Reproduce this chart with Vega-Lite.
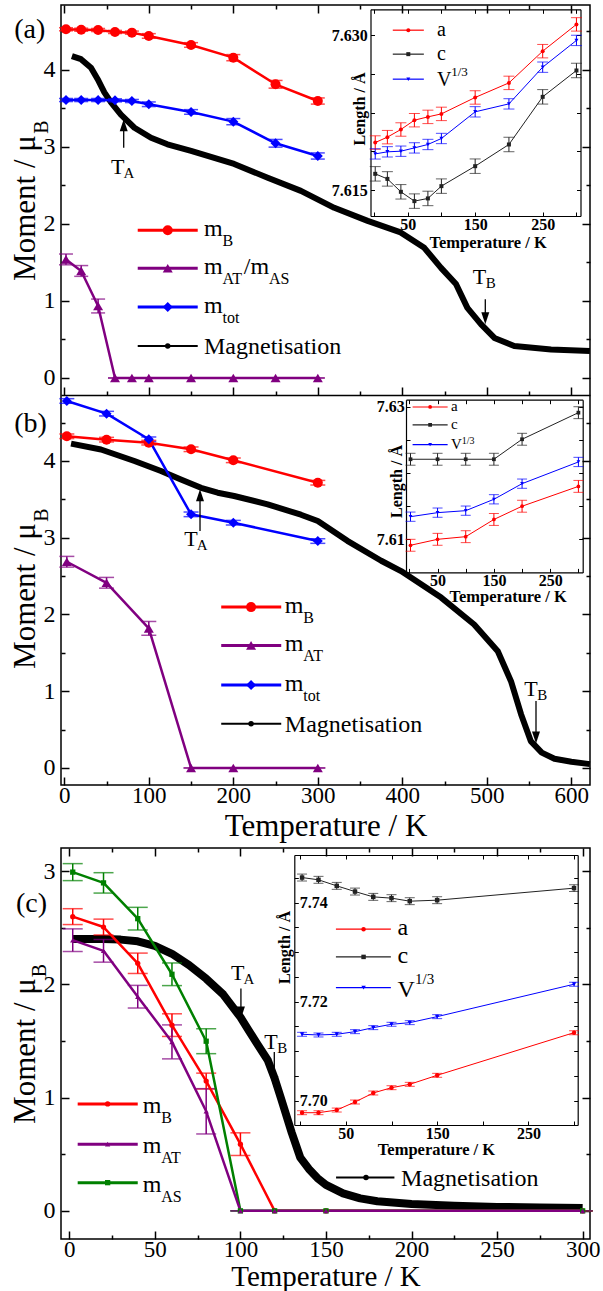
{
"$schema": "https://vega.github.io/schema/vega-lite/v6.json",
"background": "white",
"padding": {"left": 8, "top": 3, "right": 5, "bottom": 0},
"bounds": "flush",
"spacing": 63,
"config": {
 "font": "Liberation Serif",
 "view": {"stroke": "black", "strokeWidth": 1.5},
 "axis": {"grid": false, "domainColor": "black", "domainWidth": 1.5, "tickColor": "black", "tickWidth": 1.5, "labelColor": "black", "titleColor": "black", "labelFont": "Liberation Serif", "titleFont": "Liberation Serif", "titleFontWeight": "normal", "labelFlush": false, "labelOverlap": false, "labelBound": false},
 "line": {"strokeJoin": "round"}
},
"datasets": {
 "a_main": [
  {"s":"mB","T":2,"m":4.529,"e":0.02},{"s":"mB","T":20,"m":4.523,"e":0.02},{"s":"mB","T":40,"m":4.519,"e":0.02},{"s":"mB","T":60,"m":4.494,"e":0.02},{"s":"mB","T":80,"m":4.485,"e":0.02},{"s":"mB","T":100,"m":4.442,"e":0.03},{"s":"mB","T":150,"m":4.325,"e":0.03},{"s":"mB","T":200,"m":4.16,"e":0.04},{"s":"mB","T":250,"m":3.814,"e":0.05},{"s":"mB","T":300,"m":3.597,"e":0.04},
  {"s":"mtot","T":2,"m":3.61,"e":0.02},{"s":"mtot","T":20,"m":3.61,"e":0.02},{"s":"mtot","T":40,"m":3.61,"e":0.02},{"s":"mtot","T":60,"m":3.606,"e":0.02},{"s":"mtot","T":80,"m":3.597,"e":0.02},{"s":"mtot","T":100,"m":3.555,"e":0.03},{"s":"mtot","T":150,"m":3.455,"e":0.03},{"s":"mtot","T":200,"m":3.329,"e":0.04},{"s":"mtot","T":250,"m":3.048,"e":0.05},{"s":"mtot","T":300,"m":2.883,"e":0.04},
  {"s":"mAT","T":2,"m":1.54,"e":0.07},{"s":"mAT","T":20,"m":1.39,"e":0.07},{"s":"mAT","T":40,"m":0.935,"e":0.09},{"s":"mAT","T":60,"m":0,"e":0},{"s":"mAT","T":80,"m":0,"e":0},{"s":"mAT","T":100,"m":0,"e":0},{"s":"mAT","T":150,"m":0,"e":0},{"s":"mAT","T":200,"m":0,"e":0},{"s":"mAT","T":250,"m":0,"e":0},{"s":"mAT","T":300,"m":0,"e":0}
 ],
 "a_mag": [
  {"T":9,"m":4.18},{"T":19.8,"m":4.14},{"T":31.6,"m":4.03},{"T":39.5,"m":3.88},{"T":47.4,"m":3.71},{"T":55.3,"m":3.58},{"T":67,"m":3.42},{"T":83,"m":3.25},{"T":102.6,"m":3.12},{"T":122,"m":3.035},{"T":150,"m":2.95},{"T":201,"m":2.78},{"T":240.7,"m":2.6},{"T":280,"m":2.43},{"T":319.5,"m":2.21},{"T":359,"m":2.04},{"T":398,"m":1.89},{"T":426,"m":1.69},{"T":445.8,"m":1.43},{"T":463.5,"m":1.22},{"T":477,"m":0.91},{"T":493,"m":0.7},{"T":509,"m":0.52},{"T":532.5,"m":0.416},{"T":576,"m":0.37},{"T":622,"m":0.35}
 ],
 "a_ann": [
  {"k":"lab","txt":"(a)","T":-59.2,"m":4.416},
  {"k":"ysub","txt":"B","T":-19.3,"m":3.26},
  {"k":"Tt","txt":"T","T":55.3,"m":2.65},{"k":"Tt","txt":"T","T":483.3,"m":1.217},
  {"k":"Ts","txt":"A","T":70.1,"m":2.598},{"k":"Ts","txt":"B","T":498.7,"m":1.165},
  {"k":"Lt","txt":"m","T":165.3,"m":1.84},{"k":"Lt","txt":"m","T":165.3,"m":1.347},{"k":"Lt","txt":"/m","T":212.4,"m":1.347},{"k":"Lt","txt":"m","T":165.3,"m":0.844},{"k":"Lt","txt":"Magnetisation","T":165.3,"m":0.312},
  {"k":"Ls","txt":"B","T":187.2,"m":1.71},{"k":"Ls","txt":"AT","T":187.2,"m":1.217},{"k":"Ls","txt":"AS","T":242.3,"m":1.217},{"k":"Ls","txt":"tot","T":187.2,"m":0.714},
  {"k":"leg","s":"mB","T":86.9,"T2":157.9,"m":1.918},{"k":"leg","s":"mAT","T":86.9,"T2":157.9,"m":1.425},{"k":"leg","s":"mtot","T":86.9,"T2":157.9,"m":0.922},
  {"k":"legM","s":"M","T":86.9,"T2":157.9,"m":0.416},
  {"k":"legp","s":"mB","T":122.4,"m":1.918},{"k":"legp","s":"mAT","T":122.4,"m":1.425},{"k":"legp","s":"mtot","T":122.4,"m":0.922},
  {"k":"legpM","s":"M","T":122.4,"m":0.416},
  {"k":"arr","T":70.3,"m":2.99,"m2":3.3},{"k":"arr","T":498.2,"m":1.022,"m2":0.75},
  {"k":"hu","T":70.3,"m":3.36},{"k":"hd","T":498.2,"m":0.697}
 ],
 "a_ins": [
  {"s":"a","T":2,"L":7.61961,"e":0.00065},{"s":"a","T":20,"L":7.62013,"e":0.00065},{"s":"a","T":40,"L":7.62087,"e":0.00065},{"s":"a","T":60,"L":7.62177,"e":0.00065},{"s":"a","T":80,"L":7.62209,"e":0.00065},{"s":"a","T":100,"L":7.62238,"e":0.00065},{"s":"a","T":150,"L":7.62397,"e":0.00065},{"s":"a","T":200,"L":7.62538,"e":0.00065},{"s":"a","T":250,"L":7.62845,"e":0.00065},{"s":"a","T":300,"L":7.63104,"e":0.00065},
  {"s":"c","T":2,"L":7.61658,"e":0.0007},{"s":"c","T":20,"L":7.61609,"e":0.0007},{"s":"c","T":40,"L":7.61484,"e":0.0007},{"s":"c","T":60,"L":7.61394,"e":0.0007},{"s":"c","T":80,"L":7.6142,"e":0.0007},{"s":"c","T":100,"L":7.61539,"e":0.0007},{"s":"c","T":150,"L":7.61732,"e":0.0007},{"s":"c","T":200,"L":7.61942,"e":0.0007},{"s":"c","T":250,"L":7.62403,"e":0.0007},{"s":"c","T":300,"L":7.62658,"e":0.0007},
  {"s":"V","T":2,"L":7.61851,"e":0.0005},{"s":"V","T":20,"L":7.61871,"e":0.0005},{"s":"V","T":40,"L":7.61877,"e":0.0005},{"s":"V","T":60,"L":7.61909,"e":0.0005},{"s":"V","T":80,"L":7.61942,"e":0.0005},{"s":"V","T":100,"L":7.62,"e":0.0005},{"s":"V","T":150,"L":7.62258,"e":0.0005},{"s":"V","T":200,"L":7.62335,"e":0.0005},{"s":"V","T":250,"L":7.6269,"e":0.0005},{"s":"V","T":300,"L":7.62949,"e":0.0005}
 ],
 "ai_ann": [
  {"k":"ileg","s":"a","T":28,"T2":74,"L":7.63048},{"k":"ileg","s":"c","T":28,"T2":74,"L":7.62816},{"k":"ileg","s":"V","T":28,"T2":74,"L":7.62574},
  {"k":"ilegp","s":"a","T":51,"L":7.63048},{"k":"ilegp","s":"c","T":51,"L":7.62816},{"k":"ilegp","s":"V","T":51,"L":7.62574},
  {"k":"it","txt":"a","T":93.5,"L":7.62995},{"k":"it","txt":"c","T":93.5,"L":7.62763},{"k":"it","txt":"V","T":93.5,"L":7.62509},
  {"k":"isup","txt":"1/3","T":114.5,"L":7.62608}
 ],
 "b_main": [
  {"s":"mB","T":3,"m":4.322,"e":0.03},{"s":"mB","T":50,"m":4.278,"e":0.03},{"s":"mB","T":100,"m":4.239,"e":0.03},{"s":"mB","T":150,"m":4.153,"e":0.03},{"s":"mB","T":200,"m":4.009,"e":0.03},{"s":"mB","T":300,"m":3.717,"e":0.03},
  {"s":"mtot","T":3,"m":4.782,"e":0.03},{"s":"mtot","T":50,"m":4.617,"e":0.03},{"s":"mtot","T":100,"m":4.283,"e":0.03},{"s":"mtot","T":150,"m":3.305,"e":0.03},{"s":"mtot","T":200,"m":3.196,"e":0.03},{"s":"mtot","T":300,"m":2.957,"e":0.03},
  {"s":"mAT","T":3,"m":2.687,"e":0.07},{"s":"mAT","T":50,"m":2.413,"e":0.07},{"s":"mAT","T":100,"m":1.819,"e":0.09},{"s":"mAT","T":150,"m":0,"e":0},{"s":"mAT","T":200,"m":0,"e":0},{"s":"mAT","T":300,"m":0,"e":0}
 ],
 "b_mag": [
  {"T":8,"m":4.226},{"T":43.4,"m":4.15},{"T":83,"m":4.0},{"T":114.4,"m":3.87},{"T":138,"m":3.76},{"T":161.8,"m":3.65},{"T":181.5,"m":3.587},{"T":201,"m":3.544},{"T":240.7,"m":3.435},{"T":280,"m":3.3},{"T":300,"m":3.218},{"T":335,"m":2.96},{"T":375,"m":2.7},{"T":398.5,"m":2.566},{"T":446,"m":2.22},{"T":485,"m":1.87},{"T":513,"m":1.52},{"T":528.6,"m":1.13},{"T":540.5,"m":0.7},{"T":552,"m":0.35},{"T":565,"m":0.2},{"T":580,"m":0.12},{"T":600,"m":0.08},{"T":622,"m":0.05}
 ],
 "b_ann": [
  {"k":"lab","txt":"(b)","T":-59.2,"m":4.378},
  {"k":"ysub","txt":"B","T":-19.3,"m":3.296},
  {"k":"Tt","txt":"T","T":142,"m":2.892},{"k":"Tt","txt":"T","T":544.4,"m":0.936},
  {"k":"Ts","txt":"A","T":156.8,"m":2.84},{"k":"Ts","txt":"B","T":559.8,"m":0.884},
  {"k":"Lt","txt":"m","T":261,"m":2.018},{"k":"Lt","txt":"m","T":261,"m":1.519},{"k":"Lt","txt":"m","T":261,"m":1.002},{"k":"Lt","txt":"Magnetisation","T":261,"m":0.471},
  {"k":"Ls","txt":"B","T":282.9,"m":1.888},{"k":"Ls","txt":"AT","T":282.9,"m":1.389},{"k":"Ls","txt":"tot","T":282.9,"m":0.872},
  {"k":"leg","s":"mB","T":185.7,"T2":256.7,"m":2.096},{"k":"leg","s":"mAT","T":185.7,"T2":256.7,"m":1.597},{"k":"leg","s":"mtot","T":185.7,"T2":256.7,"m":1.08},
  {"k":"legM","s":"M","T":185.7,"T2":256.7,"m":0.575},
  {"k":"legp","s":"mB","T":221,"m":2.096},{"k":"legp","s":"mAT","T":221,"m":1.597},{"k":"legp","s":"mtot","T":221,"m":1.08},
  {"k":"legpM","s":"M","T":221,"m":0.575},
  {"k":"arr","T":160.6,"m":3.087,"m2":3.55},{"k":"arr","T":558.2,"m":0.871,"m2":0.4},
  {"k":"hu","T":160.6,"m":3.631},{"k":"hd","T":558.2,"m":0.32}
 ],
 "b_ins": [
  {"s":"a","T":2,"L":7.6091,"e":0.0009},{"s":"a","T":50,"L":7.61,"e":0.0009},{"s":"a","T":100,"L":7.6104,"e":0.0009},{"s":"a","T":150,"L":7.613,"e":0.0009},{"s":"a","T":200,"L":7.615,"e":0.0009},{"s":"a","T":300,"L":7.618,"e":0.0009},
  {"s":"c","T":2,"L":7.6221,"e":0.0009},{"s":"c","T":50,"L":7.6221,"e":0.0009},{"s":"c","T":100,"L":7.6221,"e":0.0009},{"s":"c","T":150,"L":7.6221,"e":0.0009},{"s":"c","T":200,"L":7.62512,"e":0.0009},{"s":"c","T":300,"L":7.62914,"e":0.0009},
  {"s":"V","T":2,"L":7.61342,"e":0.0007},{"s":"V","T":50,"L":7.61403,"e":0.0007},{"s":"V","T":100,"L":7.61433,"e":0.0007},{"s":"V","T":150,"L":7.61605,"e":0.0007},{"s":"V","T":200,"L":7.61841,"e":0.0007},{"s":"V","T":300,"L":7.62169,"e":0.0007}
 ],
 "bi_ann": [
  {"k":"ileg","s":"a","T":5.7,"T2":67.9,"L":7.63},{"k":"ileg","s":"c","T":5.7,"T2":67.9,"L":7.6273},{"k":"ileg","s":"V","T":5.7,"T2":67.9,"L":7.6243},
  {"k":"ilegp","s":"a","T":36.8,"L":7.63},{"k":"ilegp","s":"c","T":36.8,"L":7.6273},{"k":"ilegp","s":"V","T":36.8,"L":7.6243},
  {"k":"it","txt":"a","T":73.7,"L":7.6294},{"k":"it","txt":"c","T":73.7,"L":7.6267},{"k":"it","txt":"V","T":73.7,"L":7.62365},
  {"k":"isup","txt":"1/3","T":93,"L":7.62445}
 ],
 "c_main": [
  {"s":"mB","T":2,"m":2.598,"e":0.07},{"s":"mB","T":20,"m":2.506,"e":0.07},{"s":"mB","T":40,"m":2.186,"e":0.09},{"s":"mB","T":60,"m":1.64,"e":0.1},{"s":"mB","T":80,"m":1.146,"e":0.07},{"s":"mB","T":100,"m":0.589,"e":0.1},{"s":"mB","T":120,"m":0,"e":0},{"s":"mB","T":150,"m":0,"e":0},{"s":"mB","T":300,"m":0,"e":0},
  {"s":"mAS","T":2,"m":2.991,"e":0.075},{"s":"mAS","T":20,"m":2.896,"e":0.09},{"s":"mAS","T":40,"m":2.58,"e":0.1},{"s":"mAS","T":60,"m":2.089,"e":0.1},{"s":"mAS","T":80,"m":1.498,"e":0.11},{"s":"mAS","T":100,"m":0,"e":0},{"s":"mAS","T":120,"m":0,"e":0},{"s":"mAS","T":150,"m":0,"e":0},{"s":"mAS","T":300,"m":0,"e":0},
  {"s":"mAT","T":2,"m":2.39,"e":0.1},{"s":"mAT","T":20,"m":2.296,"e":0.1},{"s":"mAT","T":40,"m":1.891,"e":0.1},{"s":"mAT","T":60,"m":1.492,"e":0.15},{"s":"mAT","T":80,"m":0.879,"e":0.2},{"s":"mAT","T":100,"m":0,"e":0},{"s":"mAT","T":120,"m":0,"e":0},{"s":"mAT","T":150,"m":0,"e":0},{"s":"mAT","T":300,"m":0,"e":0}
 ],
 "c_mag": [
  {"T":2,"m":2.4},{"T":20,"m":2.4},{"T":30,"m":2.395},{"T":40,"m":2.38},{"T":50,"m":2.34},{"T":60,"m":2.27},{"T":70,"m":2.17},{"T":80,"m":2.05},{"T":90,"m":1.91},{"T":100,"m":1.71},{"T":105,"m":1.59},{"T":110,"m":1.47},{"T":116,"m":1.33},{"T":120,"m":1.17},{"T":124,"m":0.98},{"T":130,"m":0.69},{"T":135,"m":0.47},{"T":140,"m":0.37},{"T":145,"m":0.29},{"T":150,"m":0.23},{"T":160,"m":0.155},{"T":170,"m":0.11},{"T":180,"m":0.085},{"T":200,"m":0.06},{"T":225,"m":0.045},{"T":250,"m":0.035},{"T":275,"m":0.03},{"T":300,"m":0.025}
 ],
 "c_ann": [
  {"k":"lab","txt":"(c)","T":-31.2,"m":2.636},
  {"k":"ysub","txt":"B","T":-13.6,"m":2.122},
  {"k":"Tt","txt":"T","T":94.5,"m":2.039},{"k":"Tt","txt":"T","T":114,"m":1.432},
  {"k":"Ts","txt":"A","T":101.8,"m":2.004},{"k":"Ts","txt":"B","T":121.6,"m":1.397},
  {"k":"Lt","txt":"m","T":42.9,"m":0.864},{"k":"Lt","txt":"m","T":42.9,"m":0.509},{"k":"Lt","txt":"m","T":42.9,"m":0.169},{"k":"Lt","txt":"Magnetisation","T":193.9,"m":0.223},
  {"k":"Ls","txt":"B","T":53.7,"m":0.775},{"k":"Ls","txt":"AT","T":53.7,"m":0.42},{"k":"Ls","txt":"AS","T":53.7,"m":0.08},
  {"k":"leg","s":"mB","T":4.9,"T2":40,"m":0.944},{"k":"leg","s":"mAT","T":4.9,"T2":40,"m":0.589},{"k":"leg","s":"mAS","T":4.9,"T2":40,"m":0.249},
  {"k":"legM","s":"M","T":155.9,"T2":190,"m":0.294},
  {"k":"legp","s":"mB","T":22.4,"m":0.944},{"k":"legp","s":"mAT","T":22.4,"m":0.589},{"k":"legp","s":"mAS","T":22.4,"m":0.249},
  {"k":"legpM","s":"M","T":173.4,"m":0.294},
  {"k":"arr","T":100.3,"m":1.964,"m2":1.75},{"k":"arr","T":119.8,"m":1.403,"m2":1.15},
  {"k":"hd","T":100.3,"m":1.698},{"k":"hd","T":119.8,"m":1.083}
 ],
 "c_ins": [
  {"s":"a","T":2,"L":7.69758,"e":0.0004},{"s":"a","T":20,"L":7.69758,"e":0.0004},{"s":"a","T":40,"L":7.69812,"e":0.0004},{"s":"a","T":60,"L":7.69974,"e":0.0004},{"s":"a","T":80,"L":7.70156,"e":0.0004},{"s":"a","T":100,"L":7.70263,"e":0.0004},{"s":"a","T":120,"L":7.70331,"e":0.0004},{"s":"a","T":150,"L":7.70513,"e":0.0004},{"s":"a","T":300,"L":7.71374,"e":0.0004},
  {"s":"c","T":2,"L":7.74505,"e":0.0007},{"s":"c","T":20,"L":7.74459,"e":0.0007},{"s":"c","T":40,"L":7.74337,"e":0.0007},{"s":"c","T":60,"L":7.74222,"e":0.0007},{"s":"c","T":80,"L":7.74115,"e":0.0007},{"s":"c","T":100,"L":7.74089,"e":0.0007},{"s":"c","T":120,"L":7.74028,"e":0.0007},{"s":"c","T":150,"L":7.74048,"e":0.0007},{"s":"c","T":300,"L":7.74291,"e":0.0007},
  {"s":"V","T":2,"L":7.71341,"e":0.0004},{"s":"V","T":20,"L":7.71327,"e":0.0004},{"s":"V","T":40,"L":7.71341,"e":0.0004},{"s":"V","T":60,"L":7.71394,"e":0.0004},{"s":"V","T":80,"L":7.71475,"e":0.0004},{"s":"V","T":100,"L":7.71543,"e":0.0004},{"s":"V","T":120,"L":7.71576,"e":0.0004},{"s":"V","T":150,"L":7.71697,"e":0.0004},{"s":"V","T":300,"L":7.72352,"e":0.0004}
 ],
 "ci_ann": [
  {"k":"ileg","s":"a","T":39.1,"T2":99.3,"L":7.73463},{"k":"ileg","s":"c","T":39.1,"T2":99.3,"L":7.72903},{"k":"ileg","s":"V","T":39.1,"T2":99.3,"L":7.72283},
  {"k":"ilegp","s":"a","T":69.4,"L":7.73463},{"k":"ilegp","s":"c","T":69.4,"L":7.72903},{"k":"ilegp","s":"V","T":69.4,"L":7.72283},
  {"k":"it","txt":"a","T":106.7,"L":7.73342},{"k":"it","txt":"c","T":106.7,"L":7.72782},{"k":"it","txt":"V","T":106.7,"L":7.72101},
  {"k":"isup","txt":"1/3","T":125.7,"L":7.72364}
 ]
},
"vconcat": [
{
 "width": 529, "height": 780,
 "resolve": {"scale": {"x": "independent", "y": "independent"}},
 "layer": [
  {
   "encoding": {
    "x": {"field": "T", "type": "quantitative", "scale": {"domain": [-3.9, 622.1], "nice": false, "zero": false},
          "axis": {"orient": "bottom", "offset": -390, "values": [0,50,100,150,200,250,300,350,400,450,500,550,600], "labels": false, "title": null, "domain": true, "tickSize": {"condition": {"test": "datum.value % 100 === 0", "value": -8}, "value": -4}}},
    "y": {"field": "m", "type": "quantitative", "scale": {"domain": [-0.221, 4.844], "range": [390, 0], "nice": false, "zero": false},
          "axis": {"orient": "left", "values": [0,0.5,1,1.5,2,2.5,3,3.5,4,4.5], "format": ".0f", "labelExpr": "datum.value % 1 === 0 ? datum.label : ''", "labelFontSize": 24, "labelPadding": 14, "tickSize": {"condition": {"test": "datum.value % 1 === 0", "value": -8}, "value": -4}, "domain": false, "title": "Moment / μ", "titleFontSize": 31, "titleAngle": 270, "titleX": -26.7, "titleY": 202.5, "titleBaseline": "alphabetic", "titleAlign": "center"}}
   },
   "layer": [
    {"data": {"name": "a_mag"}, "mark": {"type": "line", "color": "black", "strokeWidth": 6}},
    {"data": {"name": "a_main"}, "mark": {"type": "errorbar", "ticks": {"size": 14}, "thickness": 1.5}, "encoding": {"yError": {"field": "e"}, "color": {"field": "s", "type": "nominal", "legend": null, "scale": {"domain": ["mB","mAT","mtot","mAS","a","c","V","M"], "range": ["#ff0000","#800080","#0000ff","#008000","#ff0000","#222222","#0000ff","#000000"]}}}},
    {"data": {"name": "a_main"}, "mark": {"type": "line", "strokeWidth": 2.5}, "encoding": {"color": {"field": "s", "type": "nominal", "legend": null, "scale": {"domain": ["mB","mAT","mtot","mAS","a","c","V","M"], "range": ["#ff0000","#800080","#0000ff","#008000","#ff0000","#222222","#0000ff","#000000"]}}}},
    {"data": {"name": "a_main"}, "mark": {"type": "point", "filled": true, "size": 100, "opacity": 1}, "encoding": {"color": {"field": "s", "type": "nominal", "legend": null, "scale": {"domain": ["mB","mAT","mtot","mAS","a","c","V","M"], "range": ["#ff0000","#800080","#0000ff","#008000","#ff0000","#222222","#0000ff","#000000"]}}, "shape": {"field": "s", "type": "nominal", "legend": null, "scale": {"domain": ["mB","mAT","mtot","mAS","a","c","V","M"], "range": ["circle","triangle-up","diamond","square","circle","square","triangle-down","circle"]}}}},
    {"data": {"name": "a_ann"}, "transform": [{"filter": "datum.k === 'lab'"}], "mark": {"type": "text", "fontSize": 28, "align": "left", "baseline": "alphabetic"}, "encoding": {"text": {"field": "txt"}}},
    {"data": {"name": "a_ann"}, "transform": [{"filter": "datum.k === 'ysub'"}], "mark": {"type": "text", "fontSize": 20, "angle": 270, "align": "center", "baseline": "alphabetic"}, "encoding": {"text": {"field": "txt"}}},
    {"data": {"name": "a_ann"}, "transform": [{"filter": "datum.k === 'Tt'"}], "mark": {"type": "text", "fontSize": 22, "align": "left", "baseline": "alphabetic"}, "encoding": {"text": {"field": "txt"}}},
    {"data": {"name": "a_ann"}, "transform": [{"filter": "datum.k === 'Ts'"}], "mark": {"type": "text", "fontSize": 15, "align": "left", "baseline": "alphabetic"}, "encoding": {"text": {"field": "txt"}}},
    {"data": {"name": "a_ann"}, "transform": [{"filter": "datum.k === 'Lt'"}], "mark": {"type": "text", "fontSize": 24, "align": "left", "baseline": "alphabetic"}, "encoding": {"text": {"field": "txt"}}},
    {"data": {"name": "a_ann"}, "transform": [{"filter": "datum.k === 'Ls'"}], "mark": {"type": "text", "fontSize": 16, "align": "left", "baseline": "alphabetic"}, "encoding": {"text": {"field": "txt"}}},
    {"data": {"name": "a_ann"}, "transform": [{"filter": "datum.k === 'leg'"}], "mark": {"type": "rule", "strokeWidth": 3}, "encoding": {"x2": {"field": "T2"}, "color": {"field": "s", "type": "nominal", "legend": null, "scale": {"domain": ["mB","mAT","mtot","mAS","a","c","V","M"], "range": ["#ff0000","#800080","#0000ff","#008000","#ff0000","#222222","#0000ff","#000000"]}}}},
    {"data": {"name": "a_ann"}, "transform": [{"filter": "datum.k === 'legM'"}], "mark": {"type": "rule", "strokeWidth": 2, "color": "black"}, "encoding": {"x2": {"field": "T2"}}},
    {"data": {"name": "a_ann"}, "transform": [{"filter": "datum.k === 'arr'"}], "mark": {"type": "rule", "strokeWidth": 1.3, "color": "black"}, "encoding": {"y2": {"field": "m2"}}},
    {"data": {"name": "a_ann"}, "transform": [{"filter": "datum.k === 'legp'"}], "mark": {"type": "point", "filled": true, "size": 100, "opacity": 1}, "encoding": {"color": {"field": "s", "type": "nominal", "legend": null, "scale": {"domain": ["mB","mAT","mtot","mAS","a","c","V","M"], "range": ["#ff0000","#800080","#0000ff","#008000","#ff0000","#222222","#0000ff","#000000"]}}, "shape": {"field": "s", "type": "nominal", "legend": null, "scale": {"domain": ["mB","mAT","mtot","mAS","a","c","V","M"], "range": ["circle","triangle-up","diamond","square","circle","square","triangle-down","circle"]}}}},
    {"data": {"name": "a_ann"}, "transform": [{"filter": "datum.k === 'legpM'"}], "mark": {"type": "point", "filled": true, "size": 30, "opacity": 1, "color": "black", "shape": "circle"}},
    {"data": {"name": "a_ann"}, "transform": [{"filter": "datum.k === 'hu'"}], "mark": {"type": "point", "filled": true, "size": 178, "opacity": 1, "color": "black", "shape": "M0,0L-0.6,1.8L0.6,1.8Z"}},
    {"data": {"name": "a_ann"}, "transform": [{"filter": "datum.k === 'hd'"}], "mark": {"type": "point", "filled": true, "size": 178, "opacity": 1, "color": "black", "shape": "M0,0L-0.6,-1.8L0.6,-1.8Z"}}
   ]
  },
  {
   "data": {"values": [{}]},
   "mark": {"type": "point", "opacity": 0},
   "encoding": {
    "x": {"datum": 0, "type": "quantitative", "scale": {"domain": [-3.9, 622.1], "nice": false, "zero": false}, "axis": {"orient": "top", "values": [0,50,100,150,200,250,300,350,400,450,500,550,600], "labels": false, "title": null, "domain": false, "tickSize": {"condition": {"test": "datum.value % 100 === 0", "value": -8}, "value": -4}}},
    "y": {"datum": 0, "type": "quantitative", "scale": {"domain": [-0.221, 4.844], "range": [390, 0], "nice": false, "zero": false}, "axis": {"orient": "right", "values": [0,0.5,1,1.5,2,2.5,3,3.5,4,4.5], "labels": false, "title": null, "domain": false, "tickSize": {"condition": {"test": "datum.value % 1 === 0", "value": -8}, "value": -4}}}
   }
  },
  {
   "data": {"name": "a_ins"},
   "encoding": {
    "x": {"field": "T", "type": "quantitative", "scale": {"domain": [-5, 306], "range": [309.5, 519.5], "nice": false, "zero": false},
          "axis": {"orient": "bottom", "offset": -569, "values": [0,50,100,150,200,250,300], "labelExpr": "datum.value % 100 === 50 ? datum.label : ''", "labelFontSize": 16, "labelFontWeight": "bold", "labelPadding": 4, "tickSize": -4, "tickWidth": 1, "domain": true, "domainWidth": 1.2, "title": "Temperature / K", "titleFontSize": 16.5, "titleFontWeight": "bold", "titleX": 426.7, "titleY": 31, "titleBaseline": "alphabetic", "titleAlign": "center"}},
    "y": {"field": "L", "type": "quantitative", "scale": {"domain": [7.6125, 7.6325], "range": [211, 4.3], "nice": false, "zero": false},
          "axis": {"orient": "left", "offset": -309.5, "values": [7.615, 7.61875, 7.6225, 7.62625, 7.63], "format": ".3f", "labelExpr": "(abs(datum.value-7.615)<1e-6 || abs(datum.value-7.63)<1e-6) ? datum.label : ''", "labelFontSize": 16, "labelFontWeight": "bold", "labelPadding": 7.3, "tickSize": -4, "tickWidth": 1, "domain": true, "domainWidth": 1.2, "title": "Length / Å", "titleFontSize": 16, "titleFontWeight": "bold", "titleAngle": 270, "titleX": -5.7, "titleY": 103.5, "titleBaseline": "alphabetic", "titleAlign": "center"}}
   },
   "layer": [
    {"mark": {"type": "errorbar", "ticks": {"size": 11}, "thickness": 1}, "encoding": {"yError": {"field": "e"}, "color": {"field": "s", "type": "nominal", "legend": null, "scale": {"domain": ["mB","mAT","mtot","mAS","a","c","V","M"], "range": ["#ff0000","#800080","#0000ff","#008000","#ff0000","#222222","#0000ff","#000000"]}}}},
    {"mark": {"type": "line", "strokeWidth": 1}, "encoding": {"color": {"field": "s", "type": "nominal", "legend": null, "scale": {"domain": ["mB","mAT","mtot","mAS","a","c","V","M"], "range": ["#ff0000","#800080","#0000ff","#008000","#ff0000","#222222","#0000ff","#000000"]}}}},
    {"mark": {"type": "point", "filled": true, "size": 16, "opacity": 1}, "encoding": {"color": {"field": "s", "type": "nominal", "legend": null, "scale": {"domain": ["mB","mAT","mtot","mAS","a","c","V","M"], "range": ["#ff0000","#800080","#0000ff","#008000","#ff0000","#222222","#0000ff","#000000"]}}, "shape": {"field": "s", "type": "nominal", "legend": null, "scale": {"domain": ["mB","mAT","mtot","mAS","a","c","V","M"], "range": ["circle","triangle-up","diamond","square","circle","square","triangle-down","circle"]}}}},
    {"data": {"name": "ai_ann"}, "transform": [{"filter": "datum.k === 'ileg'"}], "mark": {"type": "rule", "strokeWidth": 1.2}, "encoding": {"x2": {"field": "T2"}, "color": {"field": "s", "type": "nominal", "legend": null, "scale": {"domain": ["mB","mAT","mtot","mAS","a","c","V","M"], "range": ["#ff0000","#800080","#0000ff","#008000","#ff0000","#222222","#0000ff","#000000"]}}}},
    {"data": {"name": "ai_ann"}, "transform": [{"filter": "datum.k === 'ilegp'"}], "mark": {"type": "point", "filled": true, "size": 16, "opacity": 1}, "encoding": {"color": {"field": "s", "type": "nominal", "legend": null, "scale": {"domain": ["mB","mAT","mtot","mAS","a","c","V","M"], "range": ["#ff0000","#800080","#0000ff","#008000","#ff0000","#222222","#0000ff","#000000"]}}, "shape": {"field": "s", "type": "nominal", "legend": null, "scale": {"domain": ["mB","mAT","mtot","mAS","a","c","V","M"], "range": ["circle","triangle-up","diamond","square","circle","square","triangle-down","circle"]}}}},
    {"data": {"name": "ai_ann"}, "transform": [{"filter": "datum.k === 'it'"}], "mark": {"type": "text", "fontSize": 20, "align": "left", "baseline": "alphabetic"}, "encoding": {"text": {"field": "txt"}}},
    {"data": {"name": "ai_ann"}, "transform": [{"filter": "datum.k === 'isup'"}], "mark": {"type": "text", "fontSize": 13, "align": "left", "baseline": "alphabetic"}, "encoding": {"text": {"field": "txt"}}}
   ]
  },
  {
   "data": {"values": [{}]},
   "mark": {"type": "point", "opacity": 0},
   "encoding": {
    "x": {"datum": 100, "type": "quantitative", "scale": {"domain": [-5, 306], "range": [309.5, 519.5], "nice": false, "zero": false}, "axis": {"orient": "top", "offset": -4.3, "values": [0,50,100,150,200,250,300], "labels": false, "title": null, "domain": true, "domainWidth": 1.2, "tickSize": -4, "tickWidth": 1}},
    "y": {"datum": 7.62, "type": "quantitative", "scale": {"domain": [7.6125, 7.6325], "range": [211, 4.3], "nice": false, "zero": false}, "axis": {"orient": "right", "offset": -9.5, "values": [7.615, 7.61875, 7.6225, 7.62625, 7.63], "labels": false, "title": null, "domain": true, "domainWidth": 1.2, "tickSize": -4, "tickWidth": 1}}
   }
  },
  {
   "encoding": {
    "x": {"field": "T", "type": "quantitative", "scale": {"domain": [-3.9, 622.1], "nice": false, "zero": false},
          "axis": {"orient": "bottom", "values": [0,50,100,150,200,250,300,350,400,450,500,550,600], "labelExpr": "datum.value % 100 === 0 ? datum.label : ''", "labelFontSize": 23, "labelPadding": 7.5, "domain": false, "tickSize": {"condition": {"test": "datum.value % 100 === 0", "value": -8}, "value": -4}, "title": "Temperature / K", "titleFontSize": 31, "titleY": 50.5, "titleBaseline": "alphabetic"}},
    "y": {"field": "m", "type": "quantitative", "scale": {"domain": [-0.222, 4.86], "range": [780, 390], "nice": false, "zero": false},
          "axis": {"orient": "left", "values": [0,0.5,1,1.5,2,2.5,3,3.5,4,4.5], "format": ".0f", "labelExpr": "datum.value % 1 === 0 ? datum.label : ''", "labelFontSize": 24, "labelPadding": 14, "tickSize": {"condition": {"test": "datum.value % 1 === 0", "value": -8}, "value": -4}, "domain": false, "title": "Moment / μ", "titleFontSize": 31, "titleAngle": 270, "titleX": -26.7, "titleY": 590.5, "titleBaseline": "alphabetic", "titleAlign": "center"}}
   },
   "layer": [
    {"data": {"name": "b_mag"}, "mark": {"type": "line", "color": "black", "strokeWidth": 6}},
    {"data": {"name": "b_main"}, "mark": {"type": "errorbar", "ticks": {"size": 15}, "thickness": 1.5}, "encoding": {"yError": {"field": "e"}, "color": {"field": "s", "type": "nominal", "legend": null, "scale": {"domain": ["mB","mAT","mtot","mAS","a","c","V","M"], "range": ["#ff0000","#800080","#0000ff","#008000","#ff0000","#222222","#0000ff","#000000"]}}}},
    {"data": {"name": "b_main"}, "mark": {"type": "line", "strokeWidth": 2.5}, "encoding": {"color": {"field": "s", "type": "nominal", "legend": null, "scale": {"domain": ["mB","mAT","mtot","mAS","a","c","V","M"], "range": ["#ff0000","#800080","#0000ff","#008000","#ff0000","#222222","#0000ff","#000000"]}}}},
    {"data": {"name": "b_main"}, "mark": {"type": "point", "filled": true, "size": 100, "opacity": 1}, "encoding": {"color": {"field": "s", "type": "nominal", "legend": null, "scale": {"domain": ["mB","mAT","mtot","mAS","a","c","V","M"], "range": ["#ff0000","#800080","#0000ff","#008000","#ff0000","#222222","#0000ff","#000000"]}}, "shape": {"field": "s", "type": "nominal", "legend": null, "scale": {"domain": ["mB","mAT","mtot","mAS","a","c","V","M"], "range": ["circle","triangle-up","diamond","square","circle","square","triangle-down","circle"]}}}},
    {"data": {"name": "b_ann"}, "transform": [{"filter": "datum.k === 'lab'"}], "mark": {"type": "text", "fontSize": 28, "align": "left", "baseline": "alphabetic"}, "encoding": {"text": {"field": "txt"}}},
    {"data": {"name": "b_ann"}, "transform": [{"filter": "datum.k === 'ysub'"}], "mark": {"type": "text", "fontSize": 20, "angle": 270, "align": "center", "baseline": "alphabetic"}, "encoding": {"text": {"field": "txt"}}},
    {"data": {"name": "b_ann"}, "transform": [{"filter": "datum.k === 'Tt'"}], "mark": {"type": "text", "fontSize": 22, "align": "left", "baseline": "alphabetic"}, "encoding": {"text": {"field": "txt"}}},
    {"data": {"name": "b_ann"}, "transform": [{"filter": "datum.k === 'Ts'"}], "mark": {"type": "text", "fontSize": 15, "align": "left", "baseline": "alphabetic"}, "encoding": {"text": {"field": "txt"}}},
    {"data": {"name": "b_ann"}, "transform": [{"filter": "datum.k === 'Lt'"}], "mark": {"type": "text", "fontSize": 24, "align": "left", "baseline": "alphabetic"}, "encoding": {"text": {"field": "txt"}}},
    {"data": {"name": "b_ann"}, "transform": [{"filter": "datum.k === 'Ls'"}], "mark": {"type": "text", "fontSize": 16, "align": "left", "baseline": "alphabetic"}, "encoding": {"text": {"field": "txt"}}},
    {"data": {"name": "b_ann"}, "transform": [{"filter": "datum.k === 'leg'"}], "mark": {"type": "rule", "strokeWidth": 3}, "encoding": {"x2": {"field": "T2"}, "color": {"field": "s", "type": "nominal", "legend": null, "scale": {"domain": ["mB","mAT","mtot","mAS","a","c","V","M"], "range": ["#ff0000","#800080","#0000ff","#008000","#ff0000","#222222","#0000ff","#000000"]}}}},
    {"data": {"name": "b_ann"}, "transform": [{"filter": "datum.k === 'legM'"}], "mark": {"type": "rule", "strokeWidth": 2, "color": "black"}, "encoding": {"x2": {"field": "T2"}}},
    {"data": {"name": "b_ann"}, "transform": [{"filter": "datum.k === 'arr'"}], "mark": {"type": "rule", "strokeWidth": 1.3, "color": "black"}, "encoding": {"y2": {"field": "m2"}}},
    {"data": {"name": "b_ann"}, "transform": [{"filter": "datum.k === 'legp'"}], "mark": {"type": "point", "filled": true, "size": 100, "opacity": 1}, "encoding": {"color": {"field": "s", "type": "nominal", "legend": null, "scale": {"domain": ["mB","mAT","mtot","mAS","a","c","V","M"], "range": ["#ff0000","#800080","#0000ff","#008000","#ff0000","#222222","#0000ff","#000000"]}}, "shape": {"field": "s", "type": "nominal", "legend": null, "scale": {"domain": ["mB","mAT","mtot","mAS","a","c","V","M"], "range": ["circle","triangle-up","diamond","square","circle","square","triangle-down","circle"]}}}},
    {"data": {"name": "b_ann"}, "transform": [{"filter": "datum.k === 'legpM'"}], "mark": {"type": "point", "filled": true, "size": 30, "opacity": 1, "color": "black", "shape": "circle"}},
    {"data": {"name": "b_ann"}, "transform": [{"filter": "datum.k === 'hu'"}], "mark": {"type": "point", "filled": true, "size": 178, "opacity": 1, "color": "black", "shape": "M0,0L-0.6,1.8L0.6,1.8Z"}},
    {"data": {"name": "b_ann"}, "transform": [{"filter": "datum.k === 'hd'"}], "mark": {"type": "point", "filled": true, "size": 178, "opacity": 1, "color": "black", "shape": "M0,0L-0.6,-1.8L0.6,-1.8Z"}}
   ]
  },
  {
   "data": {"values": [{}]},
   "mark": {"type": "point", "opacity": 0},
   "encoding": {
    "x": {"datum": 0, "type": "quantitative", "scale": {"domain": [-3.9, 622.1], "nice": false, "zero": false}, "axis": null},
    "y": {"datum": 0, "type": "quantitative", "scale": {"domain": [-0.222, 4.86], "range": [780, 390], "nice": false, "zero": false}, "axis": {"orient": "right", "values": [0,0.5,1,1.5,2,2.5,3,3.5,4,4.5], "labels": false, "title": null, "domain": false, "tickSize": {"condition": {"test": "datum.value % 1 === 0", "value": -8}, "value": -4}}}
   }
  },
  {
   "data": {"name": "b_ins"},
   "encoding": {
    "x": {"field": "T", "type": "quantitative", "scale": {"domain": [-6, 307.6], "range": [345, 521.7], "nice": false, "zero": false},
          "axis": {"orient": "bottom", "offset": -212.6, "values": [0,50,100,150,200,250,300], "labelExpr": "datum.value % 100 === 50 ? datum.label : ''", "labelFontSize": 16, "labelFontWeight": "bold", "labelPadding": 4, "tickSize": -4, "tickWidth": 1, "domain": true, "domainWidth": 1.2, "title": "Temperature / K", "titleFontSize": 16.5, "titleFontWeight": "bold", "titleX": 446.7, "titleY": 29.5, "titleBaseline": "alphabetic", "titleAlign": "center"}},
    "y": {"field": "L", "type": "quantitative", "scale": {"domain": [7.605, 7.6311], "range": [567.4, 394.7], "nice": false, "zero": false},
          "axis": {"orient": "left", "offset": -345, "values": [7.61, 7.615, 7.62, 7.625, 7.63], "format": ".2f", "labelExpr": "(abs(datum.value-7.61)<1e-6 || abs(datum.value-7.63)<1e-6) ? datum.label : ''", "labelFontSize": 16, "labelFontWeight": "bold", "labelPadding": 5.7, "tickSize": -4, "tickWidth": 1, "domain": true, "domainWidth": 1.2, "title": "Length / Å", "titleFontSize": 16, "titleFontWeight": "bold", "titleAngle": 270, "titleX": -4.5, "titleY": 476, "titleBaseline": "alphabetic", "titleAlign": "center"}}
   },
   "layer": [
    {"mark": {"type": "errorbar", "ticks": {"size": 10}, "thickness": 1}, "encoding": {"yError": {"field": "e"}, "color": {"field": "s", "type": "nominal", "legend": null, "scale": {"domain": ["mB","mAT","mtot","mAS","a","c","V","M"], "range": ["#ff0000","#800080","#0000ff","#008000","#ff0000","#222222","#0000ff","#000000"]}}}},
    {"mark": {"type": "line", "strokeWidth": 1}, "encoding": {"color": {"field": "s", "type": "nominal", "legend": null, "scale": {"domain": ["mB","mAT","mtot","mAS","a","c","V","M"], "range": ["#ff0000","#800080","#0000ff","#008000","#ff0000","#222222","#0000ff","#000000"]}}}},
    {"mark": {"type": "point", "filled": true, "size": 14, "opacity": 1}, "encoding": {"color": {"field": "s", "type": "nominal", "legend": null, "scale": {"domain": ["mB","mAT","mtot","mAS","a","c","V","M"], "range": ["#ff0000","#800080","#0000ff","#008000","#ff0000","#222222","#0000ff","#000000"]}}, "shape": {"field": "s", "type": "nominal", "legend": null, "scale": {"domain": ["mB","mAT","mtot","mAS","a","c","V","M"], "range": ["circle","triangle-up","diamond","square","circle","square","triangle-down","circle"]}}}},
    {"data": {"name": "bi_ann"}, "transform": [{"filter": "datum.k === 'ileg'"}], "mark": {"type": "rule", "strokeWidth": 1.2}, "encoding": {"x2": {"field": "T2"}, "color": {"field": "s", "type": "nominal", "legend": null, "scale": {"domain": ["mB","mAT","mtot","mAS","a","c","V","M"], "range": ["#ff0000","#800080","#0000ff","#008000","#ff0000","#222222","#0000ff","#000000"]}}}},
    {"data": {"name": "bi_ann"}, "transform": [{"filter": "datum.k === 'ilegp'"}], "mark": {"type": "point", "filled": true, "size": 14, "opacity": 1}, "encoding": {"color": {"field": "s", "type": "nominal", "legend": null, "scale": {"domain": ["mB","mAT","mtot","mAS","a","c","V","M"], "range": ["#ff0000","#800080","#0000ff","#008000","#ff0000","#222222","#0000ff","#000000"]}}, "shape": {"field": "s", "type": "nominal", "legend": null, "scale": {"domain": ["mB","mAT","mtot","mAS","a","c","V","M"], "range": ["circle","triangle-up","diamond","square","circle","square","triangle-down","circle"]}}}},
    {"data": {"name": "bi_ann"}, "transform": [{"filter": "datum.k === 'it'"}], "mark": {"type": "text", "fontSize": 15, "align": "left", "baseline": "alphabetic"}, "encoding": {"text": {"field": "txt"}}},
    {"data": {"name": "bi_ann"}, "transform": [{"filter": "datum.k === 'isup'"}], "mark": {"type": "text", "fontSize": 10, "align": "left", "baseline": "alphabetic"}, "encoding": {"text": {"field": "txt"}}}
   ]
  },
  {
   "data": {"values": [{}]},
   "mark": {"type": "point", "opacity": 0},
   "encoding": {
    "x": {"datum": 100, "type": "quantitative", "scale": {"domain": [-6, 307.6], "range": [345, 521.7], "nice": false, "zero": false}, "axis": {"orient": "top", "offset": -394.7, "values": [0,50,100,150,200,250,300], "labels": false, "title": null, "domain": true, "domainWidth": 1.2, "tickSize": -4, "tickWidth": 1}},
    "y": {"datum": 7.62, "type": "quantitative", "scale": {"domain": [7.605, 7.6311], "range": [567.4, 394.7], "nice": false, "zero": false}, "axis": {"orient": "right", "offset": -7.3, "values": [7.61, 7.615, 7.62, 7.625, 7.63], "labels": false, "title": null, "domain": true, "domainWidth": 1.2, "tickSize": -4, "tickWidth": 1}}
   }
  }
 ]
},
{
 "width": 529, "height": 391,
 "resolve": {"scale": {"x": "independent", "y": "independent"}},
 "layer": [
  {
   "encoding": {
    "x": {"field": "T", "type": "quantitative", "scale": {"domain": [-4.85, 304.3], "nice": false, "zero": false},
          "axis": {"orient": "bottom", "values": [0,25,50,75,100,125,150,175,200,225,250,275,300], "labelExpr": "datum.value % 50 === 0 ? datum.label : ''", "labelFontSize": 23, "labelPadding": 7.5, "domain": false, "tickSize": {"condition": {"test": "datum.value % 50 === 0", "value": -8}, "value": -4}, "title": "Temperature / K", "titleFontSize": 29, "titleY": 46, "titleBaseline": "alphabetic"}},
    "y": {"field": "m", "type": "quantitative", "scale": {"domain": [-0.2485, 3.204], "nice": false, "zero": false},
          "axis": {"orient": "left", "values": [0,0.5,1,1.5,2,2.5,3], "format": ".0f", "labelExpr": "datum.value % 1 === 0 ? datum.label : ''", "labelFontSize": 24, "labelPadding": 14, "tickSize": {"condition": {"test": "datum.value % 1 === 0", "value": -8}, "value": -4}, "domain": false, "title": "Moment / μ", "titleFontSize": 31, "titleAngle": 270, "titleX": -26.7, "titleY": 202.5, "titleBaseline": "alphabetic", "titleAlign": "center"}}
   },
   "layer": [
    {"data": {"name": "c_mag"}, "mark": {"type": "line", "color": "black", "strokeWidth": 8}},
    {"data": {"name": "c_main"}, "mark": {"type": "errorbar", "ticks": {"size": 20}, "thickness": 1.5}, "encoding": {"yError": {"field": "e"}, "color": {"field": "s", "type": "nominal", "legend": null, "scale": {"domain": ["mB","mAT","mtot","mAS","a","c","V","M"], "range": ["#ff0000","#800080","#0000ff","#008000","#ff0000","#222222","#0000ff","#000000"]}}}},
    {"data": {"name": "c_main"}, "mark": {"type": "line", "strokeWidth": 2.5}, "encoding": {"color": {"field": "s", "type": "nominal", "legend": null, "scale": {"domain": ["mB","mAT","mtot","mAS","a","c","V","M"], "range": ["#ff0000","#800080","#0000ff","#008000","#ff0000","#222222","#0000ff","#000000"]}}}},
    {"data": {"name": "c_main"}, "mark": {"type": "point", "filled": true, "size": 28, "opacity": 1}, "encoding": {"color": {"field": "s", "type": "nominal", "legend": null, "scale": {"domain": ["mB","mAT","mtot","mAS","a","c","V","M"], "range": ["#ff0000","#800080","#0000ff","#008000","#ff0000","#222222","#0000ff","#000000"]}}, "shape": {"field": "s", "type": "nominal", "legend": null, "scale": {"domain": ["mB","mAT","mtot","mAS","a","c","V","M"], "range": ["circle","triangle-up","diamond","square","circle","square","triangle-down","circle"]}}}},
    {"data": {"name": "c_ann"}, "transform": [{"filter": "datum.k === 'lab'"}], "mark": {"type": "text", "fontSize": 28, "align": "left", "baseline": "alphabetic"}, "encoding": {"text": {"field": "txt"}}},
    {"data": {"name": "c_ann"}, "transform": [{"filter": "datum.k === 'ysub'"}], "mark": {"type": "text", "fontSize": 20, "angle": 270, "align": "center", "baseline": "alphabetic"}, "encoding": {"text": {"field": "txt"}}},
    {"data": {"name": "c_ann"}, "transform": [{"filter": "datum.k === 'Tt'"}], "mark": {"type": "text", "fontSize": 22, "align": "left", "baseline": "alphabetic"}, "encoding": {"text": {"field": "txt"}}},
    {"data": {"name": "c_ann"}, "transform": [{"filter": "datum.k === 'Ts'"}], "mark": {"type": "text", "fontSize": 15, "align": "left", "baseline": "alphabetic"}, "encoding": {"text": {"field": "txt"}}},
    {"data": {"name": "c_ann"}, "transform": [{"filter": "datum.k === 'Lt'"}], "mark": {"type": "text", "fontSize": 24, "align": "left", "baseline": "alphabetic"}, "encoding": {"text": {"field": "txt"}}},
    {"data": {"name": "c_ann"}, "transform": [{"filter": "datum.k === 'Ls'"}], "mark": {"type": "text", "fontSize": 16, "align": "left", "baseline": "alphabetic"}, "encoding": {"text": {"field": "txt"}}},
    {"data": {"name": "c_ann"}, "transform": [{"filter": "datum.k === 'leg'"}], "mark": {"type": "rule", "strokeWidth": 3}, "encoding": {"x2": {"field": "T2"}, "color": {"field": "s", "type": "nominal", "legend": null, "scale": {"domain": ["mB","mAT","mtot","mAS","a","c","V","M"], "range": ["#ff0000","#800080","#0000ff","#008000","#ff0000","#222222","#0000ff","#000000"]}}}},
    {"data": {"name": "c_ann"}, "transform": [{"filter": "datum.k === 'legM'"}], "mark": {"type": "rule", "strokeWidth": 2, "color": "black"}, "encoding": {"x2": {"field": "T2"}}},
    {"data": {"name": "c_ann"}, "transform": [{"filter": "datum.k === 'arr'"}], "mark": {"type": "rule", "strokeWidth": 1.3, "color": "black"}, "encoding": {"y2": {"field": "m2"}}},
    {"data": {"name": "c_ann"}, "transform": [{"filter": "datum.k === 'legp'"}], "mark": {"type": "point", "filled": true, "size": 28, "opacity": 1}, "encoding": {"color": {"field": "s", "type": "nominal", "legend": null, "scale": {"domain": ["mB","mAT","mtot","mAS","a","c","V","M"], "range": ["#ff0000","#800080","#0000ff","#008000","#ff0000","#222222","#0000ff","#000000"]}}, "shape": {"field": "s", "type": "nominal", "legend": null, "scale": {"domain": ["mB","mAT","mtot","mAS","a","c","V","M"], "range": ["circle","triangle-up","diamond","square","circle","square","triangle-down","circle"]}}}},
    {"data": {"name": "c_ann"}, "transform": [{"filter": "datum.k === 'legpM'"}], "mark": {"type": "point", "filled": true, "size": 30, "opacity": 1, "color": "black", "shape": "circle"}},
    {"data": {"name": "c_ann"}, "transform": [{"filter": "datum.k === 'hd'"}], "mark": {"type": "point", "filled": true, "size": 178, "opacity": 1, "color": "black", "shape": "M0,0L-0.6,-1.8L0.6,-1.8Z"}}
   ]
  },
  {
   "data": {"values": [{}]},
   "mark": {"type": "point", "opacity": 0},
   "encoding": {
    "x": {"datum": 0, "type": "quantitative", "scale": {"domain": [-4.85, 304.3], "nice": false, "zero": false}, "axis": {"orient": "top", "values": [0,25,50,75,100,125,150,175,200,225,250,275,300], "labels": false, "title": null, "domain": false, "tickSize": {"condition": {"test": "datum.value % 50 === 0", "value": -8}, "value": -4}}},
    "y": {"datum": 0, "type": "quantitative", "scale": {"domain": [-0.2485, 3.204], "nice": false, "zero": false}, "axis": {"orient": "right", "values": [0,0.5,1,1.5,2,2.5,3], "labels": false, "title": null, "domain": false, "tickSize": {"condition": {"test": "datum.value % 1 === 0", "value": -8}, "value": -4}}}
   }
  },
  {
   "data": {"name": "c_ins"},
   "encoding": {
    "x": {"field": "T", "type": "quantitative", "scale": {"domain": [-6.5, 304], "range": [233.3, 516.7], "nice": false, "zero": false},
          "axis": {"orient": "bottom", "offset": -114, "values": [0,50,100,150,200,250,300], "labelExpr": "datum.value % 100 === 50 ? datum.label : ''", "labelFontSize": 16, "labelFontWeight": "bold", "labelPadding": 4, "tickSize": -4, "tickWidth": 1, "domain": true, "domainWidth": 1.2, "title": "Temperature / K", "titleFontSize": 16.5, "titleFontWeight": "bold", "titleX": 375, "titleY": 29, "titleBaseline": "alphabetic", "titleAlign": "center"}},
    "y": {"field": "L", "type": "quantitative", "scale": {"domain": [7.6951, 7.7496], "range": [277, 7], "nice": false, "zero": false},
          "axis": {"orient": "left", "offset": -233.3, "values": [7.7, 7.705, 7.71, 7.715, 7.72, 7.725, 7.73, 7.735, 7.74, 7.745], "format": ".2f", "labelExpr": "abs(datum.value*50 - round(datum.value*50)) < 1e-6 ? datum.label : ''", "labelFontSize": 16, "labelFontWeight": "bold", "labelPadding": -1, "labelAlign": "left", "tickSize": -4, "tickWidth": 1, "domain": true, "domainWidth": 1.2, "title": "Length / Å", "titleFontSize": 16, "titleFontWeight": "bold", "titleAngle": 270, "titleX": -4.5, "titleY": 99, "titleBaseline": "alphabetic", "titleAlign": "center"}}
   },
   "layer": [
    {"mark": {"type": "errorbar", "ticks": {"size": 10}, "thickness": 1}, "encoding": {"yError": {"field": "e"}, "color": {"field": "s", "type": "nominal", "legend": null, "scale": {"domain": ["mB","mAT","mtot","mAS","a","c","V","M"], "range": ["#ff0000","#800080","#0000ff","#008000","#ff0000","#222222","#0000ff","#000000"]}}}},
    {"mark": {"type": "line", "strokeWidth": 1}, "encoding": {"color": {"field": "s", "type": "nominal", "legend": null, "scale": {"domain": ["mB","mAT","mtot","mAS","a","c","V","M"], "range": ["#ff0000","#800080","#0000ff","#008000","#ff0000","#222222","#0000ff","#000000"]}}}},
    {"mark": {"type": "point", "filled": true, "size": 20, "opacity": 1}, "encoding": {"color": {"field": "s", "type": "nominal", "legend": null, "scale": {"domain": ["mB","mAT","mtot","mAS","a","c","V","M"], "range": ["#ff0000","#800080","#0000ff","#008000","#ff0000","#222222","#0000ff","#000000"]}}, "shape": {"field": "s", "type": "nominal", "legend": null, "scale": {"domain": ["mB","mAT","mtot","mAS","a","c","V","M"], "range": ["circle","triangle-up","diamond","square","circle","square","triangle-down","circle"]}}}},
    {"data": {"name": "ci_ann"}, "transform": [{"filter": "datum.k === 'ileg'"}], "mark": {"type": "rule", "strokeWidth": 1.2}, "encoding": {"x2": {"field": "T2"}, "color": {"field": "s", "type": "nominal", "legend": null, "scale": {"domain": ["mB","mAT","mtot","mAS","a","c","V","M"], "range": ["#ff0000","#800080","#0000ff","#008000","#ff0000","#222222","#0000ff","#000000"]}}}},
    {"data": {"name": "ci_ann"}, "transform": [{"filter": "datum.k === 'ilegp'"}], "mark": {"type": "point", "filled": true, "size": 20, "opacity": 1}, "encoding": {"color": {"field": "s", "type": "nominal", "legend": null, "scale": {"domain": ["mB","mAT","mtot","mAS","a","c","V","M"], "range": ["#ff0000","#800080","#0000ff","#008000","#ff0000","#222222","#0000ff","#000000"]}}, "shape": {"field": "s", "type": "nominal", "legend": null, "scale": {"domain": ["mB","mAT","mtot","mAS","a","c","V","M"], "range": ["circle","triangle-up","diamond","square","circle","square","triangle-down","circle"]}}}},
    {"data": {"name": "ci_ann"}, "transform": [{"filter": "datum.k === 'it'"}], "mark": {"type": "text", "fontSize": 24, "align": "left", "baseline": "alphabetic"}, "encoding": {"text": {"field": "txt"}}},
    {"data": {"name": "ci_ann"}, "transform": [{"filter": "datum.k === 'isup'"}], "mark": {"type": "text", "fontSize": 15, "align": "left", "baseline": "alphabetic"}, "encoding": {"text": {"field": "txt"}}}
   ]
  },
  {
   "data": {"values": [{}]},
   "mark": {"type": "point", "opacity": 0},
   "encoding": {
    "x": {"datum": 100, "type": "quantitative", "scale": {"domain": [-6.5, 304], "range": [233.3, 516.7], "nice": false, "zero": false}, "axis": {"orient": "top", "offset": -7, "values": [0,50,100,150,200,250,300], "labels": false, "title": null, "domain": true, "domainWidth": 1.2, "tickSize": -4, "tickWidth": 1}},
    "y": {"datum": 7.72, "type": "quantitative", "scale": {"domain": [7.6951, 7.7496], "range": [277, 7], "nice": false, "zero": false}, "axis": {"orient": "right", "offset": -12.3, "values": [7.7, 7.705, 7.71, 7.715, 7.72, 7.725, 7.73, 7.735, 7.74, 7.745], "labels": false, "title": null, "domain": true, "domainWidth": 1.2, "tickSize": -4, "tickWidth": 1}}
   }
  }
 ]
}
]
}
